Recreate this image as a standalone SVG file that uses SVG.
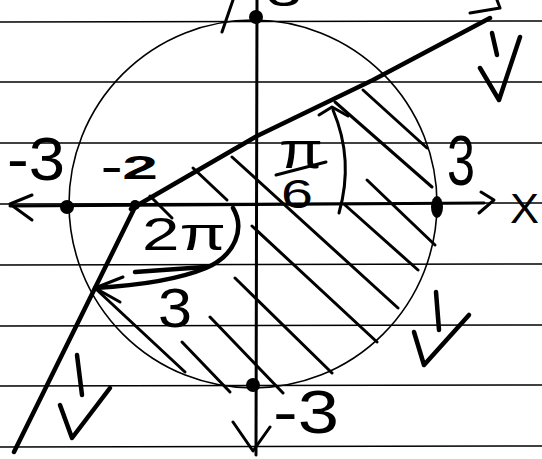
<svg xmlns="http://www.w3.org/2000/svg" width="542" height="459" viewBox="0 0 542 459">
<style>
.paper{stroke:#000;stroke-width:1.6;fill:none}
.ink{stroke:#000;fill:none;stroke-linecap:round;stroke-linejoin:round}
.thin{stroke-width:1.6}
.med{stroke-width:3}
.bold{stroke-width:4.5}
.hatch{stroke:#000;stroke-width:3;stroke-linecap:round;fill:none}
.dot{fill:#000}
.lbl{font-family:"Liberation Sans","DejaVu Sans",sans-serif;fill:#000}
</style>
<rect width="542" height="459" fill="#fff"/>
<g id="paper-lines">
<line class="paper" x1="0" y1="22" x2="542" y2="21"/>
<line class="paper" x1="0" y1="82" x2="542" y2="82"/>
<line class="paper" x1="0" y1="143" x2="542" y2="143"/>
<line class="paper" x1="0" y1="204" x2="542" y2="203"/>
<line class="paper" x1="0" y1="265" x2="542" y2="264"/>
<line class="paper" x1="0" y1="326" x2="542" y2="325"/>
<line class="paper" x1="0" y1="386" x2="542" y2="385"/>
<line class="paper" x1="0" y1="447" x2="542" y2="446"/>
</g>
<g id="circle">
<circle class="ink thin" cx="253" cy="204" r="184"/>
</g>
<g id="axes">
<path class="ink med" d="M10,206 L484,203"/>
<path class="ink med" d="M32,195 L10,204 L32,220"/>
<path class="ink med" d="M481,192 L494,200 L479,213"/>
<path class="ink med" d="M257,0 L256,455"/>
<path class="ink med" d="M233,422 L253,451 L270,427"/>
<path class="ink med" d="M222,32 L233,0"/>
</g>
<g id="rays">
<polyline class="ink bold" points="131,209 257,136 373,80 490,18"/>
<path class="ink med" d="M470,13 L500,8 L497,0"/>
<path class="ink bold" d="M137,203 L14,452"/>
</g>
<g id="hatching">
<line class="hatch" x1="363" y1="90" x2="427" y2="148"/>
<line class="hatch" x1="335" y1="102" x2="432" y2="187"/>
<line class="hatch" x1="367" y1="180" x2="435" y2="245"/>
<line class="hatch" x1="345" y1="205" x2="418" y2="270"/>
<line class="hatch" x1="232" y1="157" x2="398" y2="308"/>
<line class="hatch" x1="252" y1="226" x2="377" y2="342"/>
<line class="hatch" x1="235" y1="278" x2="332" y2="373"/>
<line class="hatch" x1="97" y1="290" x2="185" y2="372"/>
<line class="hatch" x1="210" y1="317" x2="283" y2="393"/>
<line class="hatch" x1="182" y1="342" x2="230" y2="392"/>
<line class="hatch" x1="193" y1="168" x2="227" y2="200"/>
<line class="hatch" x1="150" y1="196" x2="172" y2="218"/>
</g>
<g id="points">
<circle class="dot" cx="67" cy="207" r="7"/>
<circle class="dot" cx="135" cy="205" r="5"/>
<ellipse class="dot" cx="437" cy="207" rx="6" ry="11"/>
<circle class="dot" cx="256" cy="17" r="7"/>
<circle class="dot" cx="253" cy="385" r="7"/>
</g>
<g id="angle-pi6">
<path class="ink med" d="M339,213 C347,185 350,150 333,110"/>
<path class="ink med" d="M319,115 L332,107 L348,116"/>
<text class="lbl" x="279" y="168" font-size="52" textLength="44" lengthAdjust="spacingAndGlyphs">π</text>
<line class="ink med" x1="276" y1="175" x2="326" y2="162"/>
<text class="lbl" x="281" y="208" font-size="40" textLength="32" lengthAdjust="spacingAndGlyphs">6</text>
</g>
<g id="angle-2pi3">
<path class="ink bold" d="M233,208 C245,228 236,255 206,268 C172,282 130,286 95,288"/>
<path class="ink med" d="M123,277 L95,288 L120,302"/>
<text class="lbl" x="142" y="250" font-size="46" textLength="84" lengthAdjust="spacingAndGlyphs">2π</text>
<line class="ink bold" x1="135" y1="272" x2="205" y2="267"/>
<text class="lbl" x="158" y="327" font-size="56" textLength="34" lengthAdjust="spacingAndGlyphs">3</text>
</g>
<g id="labels">
<text class="lbl" x="7" y="180" font-size="62" textLength="58" lengthAdjust="spacingAndGlyphs">-3</text>
<text class="lbl" x="101" y="179" font-size="33" textLength="57" lengthAdjust="spacingAndGlyphs" font-weight="bold">-2</text>
<text class="lbl" x="447" y="185" font-size="70" textLength="28" lengthAdjust="spacingAndGlyphs">3</text>
<text class="lbl" x="510" y="223" font-size="42" textLength="29" lengthAdjust="spacingAndGlyphs">X</text>
<text class="lbl" x="273" y="433" font-size="62" textLength="66" lengthAdjust="spacingAndGlyphs">-3</text>
<text class="lbl" x="266" y="6" font-size="44" textLength="36" lengthAdjust="spacingAndGlyphs">3</text>
</g>
<g id="down-arrows">
<path class="ink bold" d="M492,33 L497,55"/>
<path class="ink bold" d="M480,68 L499,100 L520,37"/>
<path class="ink bold" d="M436,292 L439,330"/>
<path class="ink bold" d="M414,332 L424,365 L469,315"/>
<path class="ink bold" d="M77,355 L82,395"/>
<path class="ink bold" d="M60,405 L72,438 L110,388"/>
</g>
</svg>
